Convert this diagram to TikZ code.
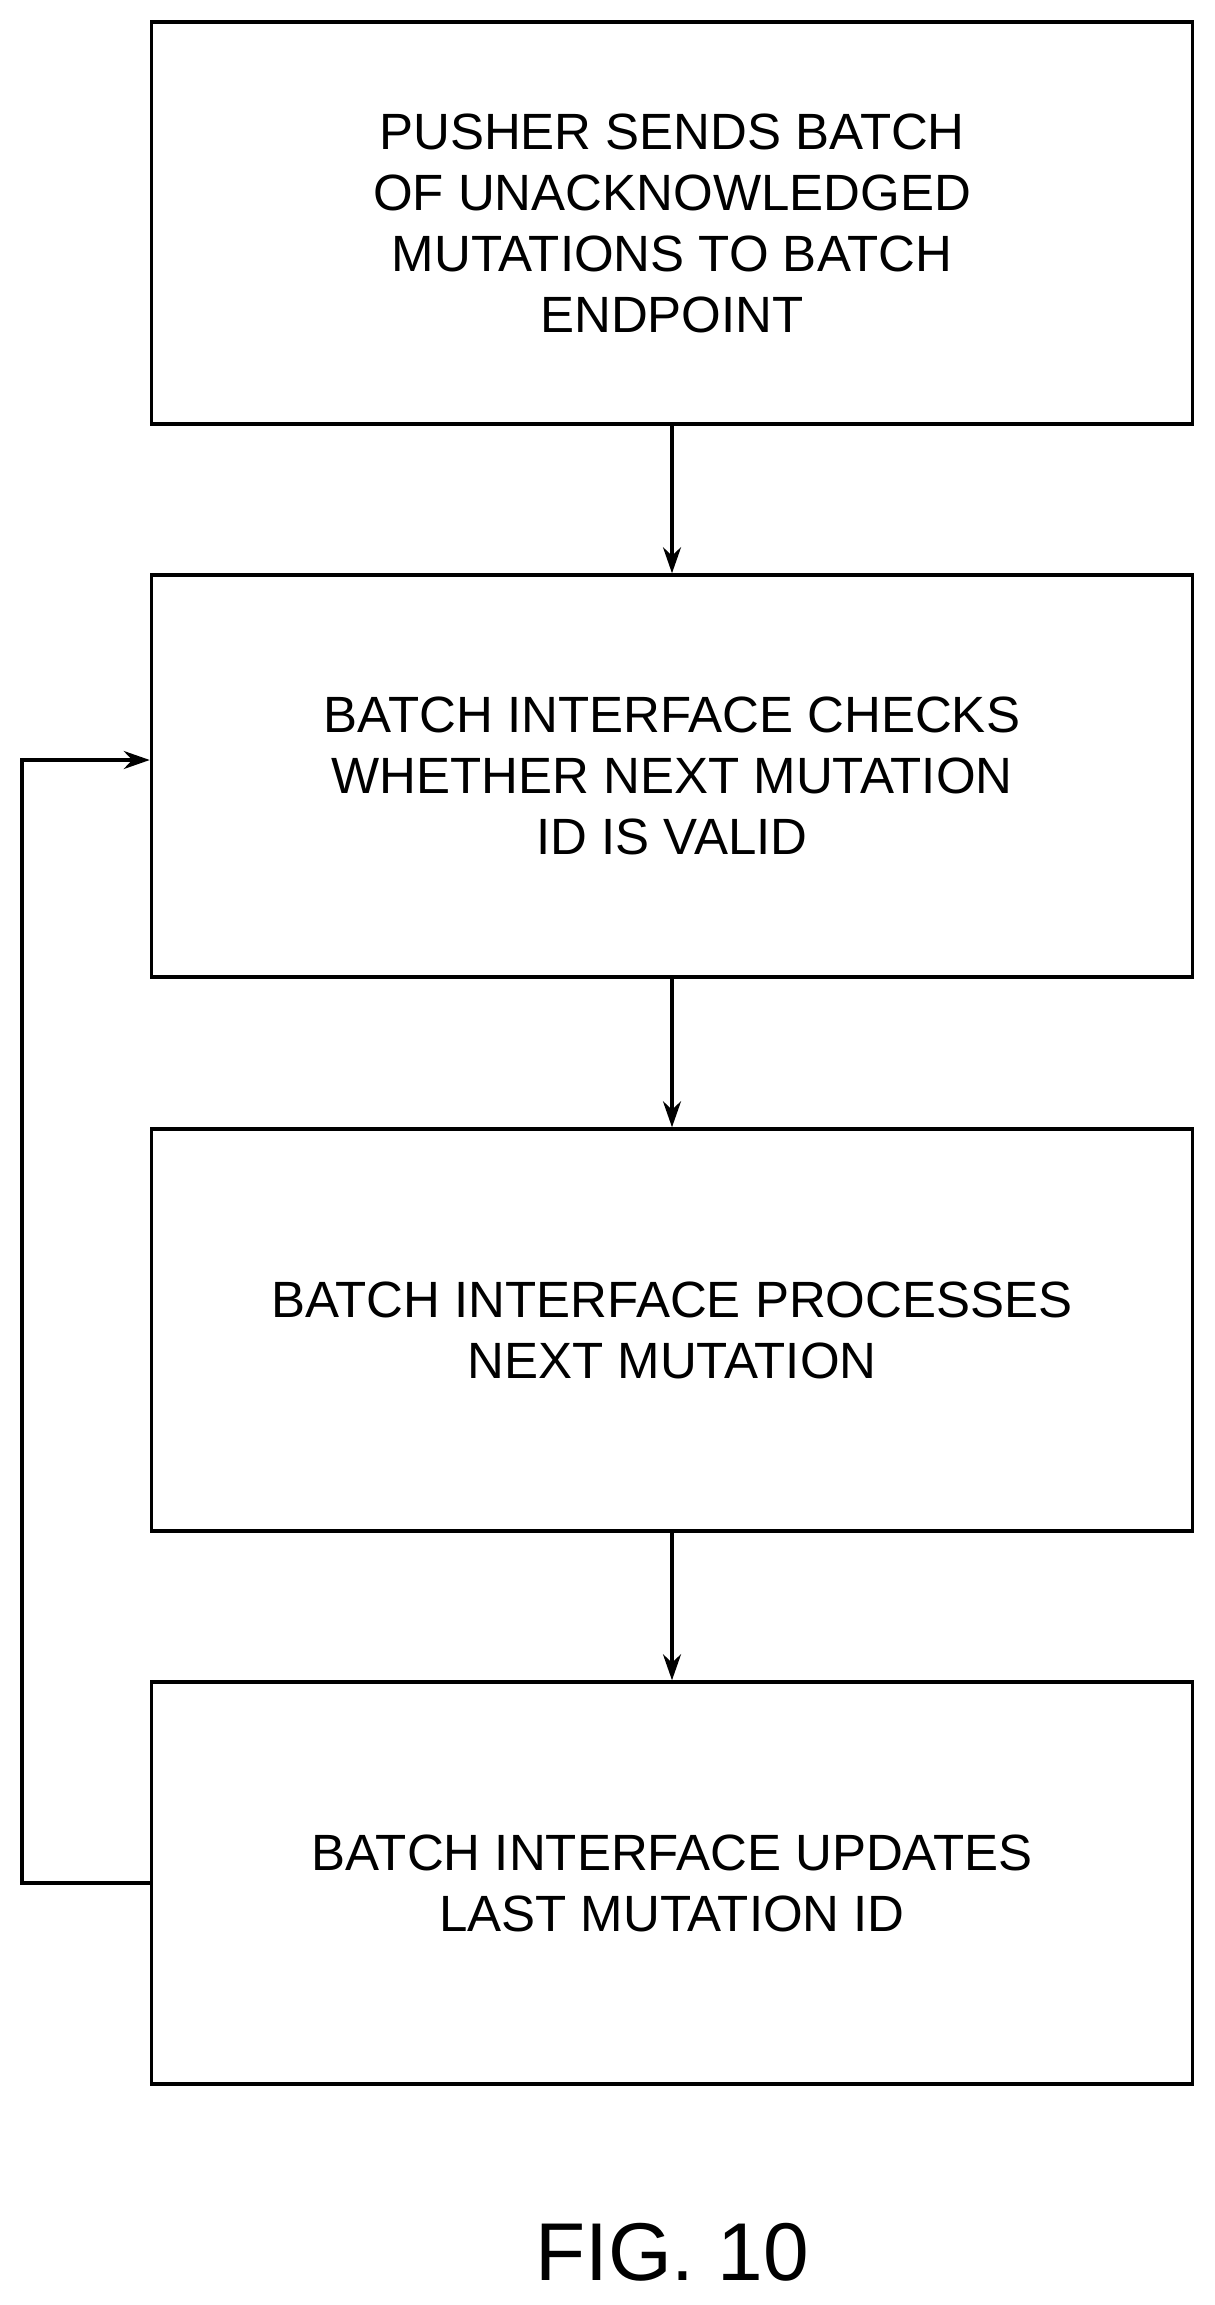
\documentclass[tikz,border=0pt]{standalone}
\usepackage{fontspec}
\setmainfont{Liberation Sans}
\usetikzlibrary{arrows.meta}
\begin{document}
\begin{tikzpicture}[x=1pt,y=-1pt,
  box/.style={draw,line width=3.5pt,minimum width=1041pt,minimum height=402pt,align=center,font=\fontsize{51}{61}\selectfont,inner sep=0pt},
  arr/.style={line width=3.5pt,-{Stealth[length=26pt,width=18pt]}}]
\useasboundingbox (0,0) rectangle (1215,2305);
\node[box] (b1) at (672,223) {PUSHER SENDS BATCH\\OF UNACKNOWLEDGED\\MUTATIONS TO BATCH\\ENDPOINT};
\node[box] (b2) at (672,776) {BATCH INTERFACE CHECKS\\WHETHER NEXT MUTATION\\ID IS VALID};
\node[box] (b3) at (672,1330) {BATCH INTERFACE PROCESSES\\NEXT MUTATION};
\node[box] (b4) at (672,1883) {BATCH INTERFACE UPDATES\\LAST MUTATION ID};
\draw[arr] (b1) -- (b2);
\draw[arr] (b2) -- (b3);
\draw[arr] (b3) -- (b4);
\coordinate (c1) at (22,1883);
\coordinate (c2) at (22,760);
\draw[arr] (b4.west |- c1) -- (c1) -- (c2) -- (b2.west |- c2);
\node[font=\fontsize{82}{90}\selectfont] (fig) at (672,2252) {FIG. 10};
\end{tikzpicture}
\end{document}
